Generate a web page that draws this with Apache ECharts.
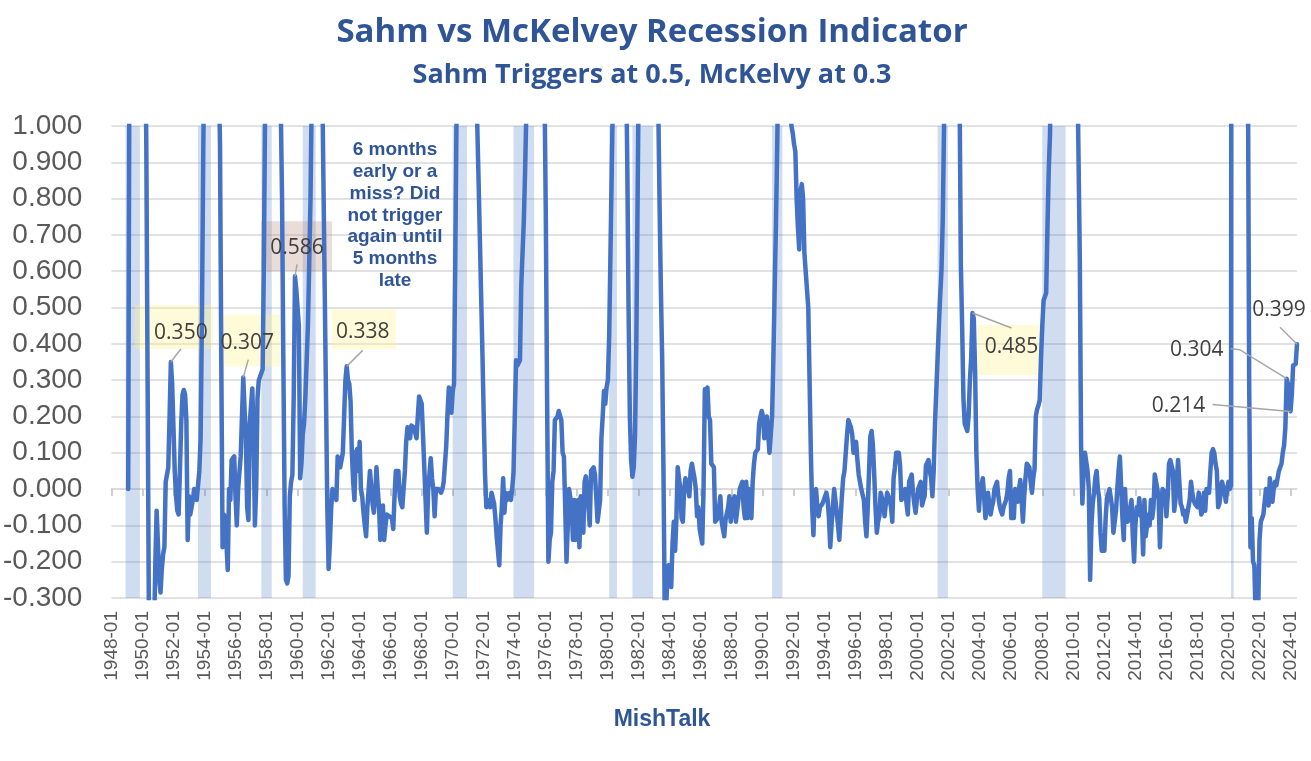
<!DOCTYPE html>
<html><head><meta charset="utf-8">
<script src="https://cdn.jsdelivr.net/npm/echarts@6/dist/echarts.min.js"></script>
<style>html,body{margin:0;padding:0;background:#fff}#c{width:1311px;height:761px}</style>
</head><body><div id="c"></div>
<script>
// ---------------- DATA ----------------
const firstYear = 1948;
const v1940s = [
 null,null,null,null,null,null,null,null,null,null,null,null,
 null,0.0,1.3,1.8,2.2,2.4,2.5,2.4,2.2,2.0,1.8,1.6
];
const v1950s = [
 1.6,1.5,1.3,0.95,0.3,-0.35,-0.45,-0.5,-0.45,-0.4,-0.2,-0.06,
 -0.15,-0.25,-0.285,-0.22,-0.18,-0.16,0.02,0.04,0.06,0.2,0.35,0.29,
 0.17,0.05,-0.02,-0.06,-0.07,0.05,0.18,0.26,0.273,0.26,0.19,-0.14,
 -0.02,-0.07,-0.065,-0.03,0.0,-0.01,-0.03,0.01,0.05,0.14,0.46,0.9,
 1.3,1.8,2.2,2.4,2.4,2.3,2.1,1.9,1.7,1.5,1.3,1.15,
 0.95,0.35,-0.16,-0.07,-0.08,-0.15,-0.223,0.0,-0.03,0.08,0.085,0.09,
 -0.02,-0.1,0.0,0.0,0.09,0.2,0.307,0.22,0.14,-0.05,-0.085,0.18,
 0.23,0.277,0.14,-0.1,0.005,0.25,0.3,0.31,0.32,0.33,0.65,1.1,
 1.6,2.0,2.3,2.4,2.3,2.2,2.0,1.8,1.6,1.4,1.25,1.05,
 0.8,0.35,-0.05,-0.25,-0.26,-0.24,-0.02,0.02,0.04,0.25,0.586,0.55
];
const v1960s = [
 0.5,0.45,0.03,0.07,0.15,0.18,0.25,0.35,0.45,0.62,0.8,1.1,
 1.6,2.0,2.1,2.1,2.0,1.8,1.6,1.15,0.85,0.55,0.25,-0.05,
 -0.22,-0.15,-0.05,0.0,0.0,-0.02,-0.03,0.09,0.09,0.06,0.06,0.1,
 0.2,0.3,0.338,0.3,0.29,0.24,0.1,0.02,-0.03,0.1,0.11,0.05,
 0.13,0.0,-0.02,-0.065,-0.1,-0.13,-0.05,0.0,0.05,0.05,-0.04,-0.065,
 -0.02,0.06,0.0,-0.05,-0.14,-0.1,-0.045,-0.14,-0.1,-0.07,-0.07,-0.075,
 -0.075,-0.08,-0.11,-0.02,0.05,0.05,0.05,-0.02,-0.04,-0.05,-0.055,0.05,
 0.13,0.17,0.16,0.14,0.175,0.17,0.17,0.175,0.14,0.2,0.255,0.245,
 0.235,0.15,0.06,-0.03,-0.12,0.0,0.04,0.085,0.03,0.0,-0.075,0.0,
 0.0,0.0,-0.005,-0.01,0.0,0.02,0.02,0.12,0.21,0.28,0.26,0.21
];
const v1970s = [
 0.27,0.29,0.64,1.05,1.5,1.9,2.2,2.4,2.5,2.4,2.3,2.1,
 1.9,1.7,1.55,1.4,1.3,1.2,1.1,1.0,0.85,0.69,0.53,0.37,
 0.2,0.04,-0.05,-0.03,-0.04,-0.05,-0.01,-0.01,-0.04,-0.08,-0.13,-0.17,
 -0.21,-0.1,-0.05,0.03,-0.065,-0.01,-0.03,-0.03,-0.01,-0.03,0.0,0.045,
 0.2,0.355,0.34,0.34,0.355,0.56,0.65,0.74,0.88,1.05,1.4,1.8,
 2.3,2.7,3.0,3.1,3.0,2.8,2.5,2.2,1.9,1.6,1.3,1.1,
 0.75,0.25,-0.2,-0.14,-0.12,0.02,0.05,0.19,0.19,0.2,0.215,0.22,
 0.19,0.1,0.09,-0.05,-0.2,-0.1,0.0,0.0,-0.05,-0.14,-0.03,-0.14,
 -0.08,-0.03,-0.16,-0.02,-0.08,-0.12,0.02,0.035,0.03,-0.05,-0.1,0.05,
 0.05,0.06,0.04,-0.02,-0.09,-0.06,-0.03,0.14,0.2,0.27,0.235,0.28
];
const v1980s = [
 0.3,0.42,0.65,0.88,1.1,1.6,2.0,2.2,2.1,1.9,1.7,1.5,
 1.3,1.25,1.2,0.9,0.5,0.2,0.08,0.034,0.06,0.15,0.4,0.8,
 1.2,1.6,2.0,2.3,2.5,2.7,2.9,3.0,3.1,3.0,2.8,2.5,
 2.0,1.6,1.25,1.05,0.78,0.55,0.36,0.05,-0.35,-0.33,-0.25,-0.21,
 -0.24,-0.27,-0.15,-0.09,-0.17,-0.08,0.06,0.06,0.0,-0.08,-0.09,0.0,
 0.03,0.03,0.0,-0.02,0.05,0.07,0.07,0.03,0.0,-0.075,-0.05,-0.11,
 -0.13,-0.15,0.0,0.275,0.26,0.28,0.2,0.19,0.07,0.07,0.06,-0.09,
 -0.09,-0.08,-0.05,-0.02,-0.09,-0.09,-0.13,-0.085,-0.085,-0.05,-0.02,-0.09,
 -0.05,-0.03,-0.02,-0.09,-0.06,-0.03,0.0,0.01,0.02,-0.05,-0.08,0.02,
 -0.08,0.0,-0.03,-0.08,0.02,0.07,0.1,0.1,0.11,0.18,0.2,0.215
];
const v1990s = [
 0.2,0.14,0.17,0.2,0.15,0.1,0.15,0.2,0.36,0.55,0.73,0.95,
 1.2,1.5,1.7,1.8,1.7,1.5,1.3,1.2,1.1,1.05,1.0,0.98,
 0.95,0.93,0.8,0.72,0.66,0.82,0.84,0.8,0.65,0.6,0.55,0.5,
 0.3,0.1,-0.05,-0.127,-0.01,0.0,-0.05,-0.075,-0.05,-0.05,-0.04,-0.03,
 -0.02,-0.01,-0.03,-0.08,-0.16,-0.1,-0.05,0.0,-0.03,-0.065,-0.1,-0.14,
 -0.08,-0.02,0.03,0.05,0.1,0.15,0.19,0.18,0.17,0.15,0.1,0.12,
 0.13,0.08,0.04,0.02,0.0,0.0,-0.03,-0.09,-0.13,-0.05,0.05,0.145,
 0.16,0.12,0.04,-0.05,-0.12,-0.09,-0.075,-0.01,-0.01,-0.04,-0.075,-0.04,
 -0.01,-0.01,-0.03,-0.05,-0.09,0.03,0.06,0.1,0.1,0.1,0.065,-0.03,
 -0.03,-0.02,0.0,-0.04,-0.07,0.02,0.03,0.04,-0.01,-0.04,-0.065,-0.03
];
const v2000s = [
 0.0,0.01,0.02,-0.045,-0.03,-0.02,0.065,0.07,0.08,0.05,0.03,-0.02,
 0.05,0.18,0.27,0.36,0.45,0.53,0.6,0.74,1.0,1.3,1.6,1.8,
 1.9,1.9,1.8,1.7,1.6,1.5,1.4,1.3,1.1,0.62,0.45,0.25,
 0.18,0.17,0.16,0.2,0.3,0.36,0.485,0.47,0.33,0.1,0.0,-0.06,
 0.0,0.01,0.03,-0.02,-0.08,-0.05,-0.01,-0.04,-0.07,-0.05,-0.035,0.0,
 0.01,0.02,-0.02,-0.045,-0.06,-0.07,-0.05,-0.05,-0.03,-0.01,0.03,0.05,
 -0.08,-0.08,-0.08,0.0,-0.02,-0.035,0.0,0.025,-0.03,-0.09,-0.02,0.03,
 0.07,0.065,0.06,0.02,-0.01,0.03,0.055,0.2,0.22,0.23,0.245,0.36,
 0.45,0.52,0.53,0.54,0.72,0.88,0.98,1.3,1.6,1.9,2.2,2.5,
 2.8,3.0,3.2,3.3,3.3,3.2,3.0,2.7,2.4,2.1,1.8,1.6
];
const v2010s = [
 1.6,1.5,1.35,1.2,0.92,0.64,0.12,-0.04,0.05,0.1,0.1,0.05,
 0.0,-0.25,-0.1,-0.04,-0.01,0.03,0.05,0.0,-0.025,-0.12,-0.17,-0.17,
 -0.17,-0.08,-0.025,-0.03,0.0,0.0,-0.05,-0.12,-0.12,-0.06,0.0,0.05,
 0.09,0.09,-0.08,-0.14,0.0,-0.08,-0.09,-0.08,-0.05,-0.03,-0.13,-0.2,
 -0.1,-0.05,-0.07,-0.025,-0.07,-0.08,-0.18,-0.03,-0.13,-0.1,-0.07,-0.1,
 -0.03,-0.08,-0.05,0.04,0.04,0.0,-0.03,-0.16,-0.05,0.0,0.0,-0.01,
 -0.075,-0.02,0.07,0.08,0.08,0.05,-0.06,-0.03,0.02,0.08,0.08,-0.04,
 -0.05,-0.07,-0.06,-0.09,-0.07,-0.05,-0.03,0.02,-0.01,-0.03,-0.04,-0.04,
 -0.05,-0.01,-0.04,-0.07,-0.06,-0.01,-0.06,0.0,0.0,-0.01,0.05,0.1,
 0.11,0.1,0.07,0.05,-0.05,-0.04,-0.01,0.02,0.025,-0.01,-0.035,0.0
];
const v2020s = [
 0.02,0.0,0.01,8.0,9.0,9.5,9.0,8.0,6.5,5.0,4.0,3.5,
 3.0,2.5,2.0,1.2,0.3,-0.16,-0.08,-0.2,-0.21,-0.35,-0.45,-0.33,
 -0.14,-0.09,-0.08,-0.07,-0.07,0.0,0.0,-0.045,0.03,0.03,-0.035,0.0,
 0.02,0.01,0.03,0.05,0.06,0.07,0.1,0.12,0.17,0.304,0.29,0.23,
 0.214,0.26,0.34,0.34,0.345,0.399
];
// NBER recessions (first recession month, month after trough)
const recessionStart = ['1948-12','1953-08','1957-09','1960-05','1970-01','1973-12','1980-02','1981-08','1990-08','2001-04','2008-01','2020-03'];
const recessionEnd   = ['1949-11','1954-06','1958-05','1961-03','1970-12','1975-04','1980-08','1982-12','1991-04','2001-12','2009-07','2020-05'];
// labelled points
const labelDates = ['1951-11','1956-07','1959-11','1963-03','2003-07','2023-10','2024-01','2024-06'];
const yTicks = { min: -0.3, max: 1.0, step: 0.1 };

// ---------------- BUILD ----------------
const values = [].concat(v1940s, v1950s, v1960s, v1970s, v1980s, v1990s, v2000s, v2010s, v2020s);
const categories = values.map((_, i) => {
  const y = firstYear + Math.floor(i / 12), m = i % 12 + 1;
  return y + '-' + (m < 10 ? '0' : '') + m;
});

const BLUE = '#2f5597';
const Y = 'rgba(255,240,140,0.35)';
const P = 'rgba(190,150,130,0.32)';
const labelLayout = [
  { text: [10, -29], box: [-36, -57, 78, 44], fill: Y, lead: [[10, -13]] },
  { text: [4, -35], box: [-24, -63, 66, 52], fill: Y, lead: [[5, -18]] },
  { text: [2, -28], box: [-34, -55, 71, 50], fill: P, lead: [[2, -12]] },
  { text: [16, -34], box: [-15, -57, 64, 40], fill: Y, lead: [[16, -16]] },
  { text: [39, 34], box: [5, 12, 62, 50], fill: Y, lead: [[39, 15]] },
  { text: [-90, -29], lead: [[-56, -30], [-47, -29]] },
  { text: [-112, -5], lead: [[-78, -7]] },
  { text: [-18, -34], lead: [[-17, -17]] }
];

const chart = echarts.init(document.getElementById('c'), null, { renderer: 'canvas' });
const option = {
  animation: false,
  backgroundColor: '#fff',
  grid: { left: 111, right: 14, top: 126, bottom: 163, containLabel: false },
  xAxis: [
    {
      type: 'category', data: categories, boundaryGap: false, position: 'bottom',
      axisLine: { show: false, onZero: false },
      axisTick: { show: false },
      axisLabel: { interval: 23, rotate: 90, margin: 13, color: '#595959', fontSize: 19, fontFamily: 'Liberation Sans', hideOverlap: false },
      splitLine: { show: false }
    },
    {
      type: 'category', data: categories, boundaryGap: false, position: 'bottom',
      axisLine: { show: true, onZero: true, onZeroAxisIndex: 0, lineStyle: { color: '#d9d9d9', width: 1.5 } },
      axisTick: { show: true, interval: 23, length: 7, lineStyle: { color: '#bfbfbf', width: 1.5 } },
      axisLabel: { show: false },
      splitLine: { show: false }
    }
  ],
  yAxis: {
    type: 'value', min: yTicks.min, max: yTicks.max, interval: yTicks.step,
    axisLine: { show: false }, axisTick: { show: false },
    axisLabel: { formatter: v => v.toFixed(3), color: '#595959', fontSize: 28, fontFamily: 'Liberation Sans', margin: 29 },
    splitLine: { lineStyle: { color: '#d9d9d9', width: 1.5 } }
  },
  series: [{
    type: 'line', data: values, xAxisIndex: 0, yAxisIndex: 0,
    showSymbol: false, symbol: 'none', clip: true, connectNulls: false,
    lineStyle: { color: '#4472c4', width: 4.5, cap: 'round', join: 'round' },
    z: 3,
    markArea: {
      silent: true,
      itemStyle: { color: 'rgba(68,114,196,0.25)' },
      data: recessionStart.map((s, k) => [{ xAxis: s }, { xAxis: recessionEnd[k] }])
    }
  }]
};
chart.setOption(option);

const graphics = [
  { type: 'text', x: 652, y: 33, z: 10, style: { text: 'Sahm vs McKelvey Recession Indicator', font: 'bold 33px "Open Sans"', fill: BLUE, align: 'center', verticalAlign: 'middle' } },
  { type: 'text', x: 652, y: 75, z: 10, style: { text: 'Sahm Triggers at 0.5, McKelvy at 0.3', font: 'bold 27px "Open Sans"', fill: BLUE, align: 'center', verticalAlign: 'middle' } },
  { type: 'text', x: 662, y: 720, z: 10, style: { text: 'MishTalk', font: 'bold 23px "Liberation Sans"', fill: BLUE, align: 'center', verticalAlign: 'middle' } },
  { type: 'text', x: 395, y: 139, z: 10, style: { text: '6 months\nearly or a\nmiss? Did\nnot trigger\nagain until\n5 months\nlate', font: 'bold 19px "Liberation Sans"', lineHeight: 21.8, fill: BLUE, align: 'center', verticalAlign: 'top' } }
];
labelDates.forEach((d, k) => {
  const idx = categories.indexOf(d);
  const v = values[idx];
  const p = chart.convertToPixel({ xAxisIndex: 0, yAxisIndex: 0 }, [d, v]);
  const L = labelLayout[k];
  if (L.box) {
    graphics.push({ type: 'rect', z: 1, shape: { x: p[0] + L.box[0], y: p[1] + L.box[1], width: L.box[2], height: L.box[3] }, style: { fill: L.fill } });
  }
  const pts = L.lead.map(o => [p[0] + o[0], p[1] + o[1]]).concat([[p[0], p[1]]]);
  graphics.push({ type: 'polyline', z: 5, shape: { points: pts }, style: { stroke: '#a6a6a6', lineWidth: 1.5, fill: null } });
  graphics.push({ type: 'text', z: 10, x: p[0] + L.text[0], y: p[1] + L.text[1], style: { text: v.toFixed(3), font: '21px "Open Sans"', fill: '#404040', align: 'center', verticalAlign: 'middle' } });
});
chart.setOption({ graphic: graphics });
</script>
</body></html>
